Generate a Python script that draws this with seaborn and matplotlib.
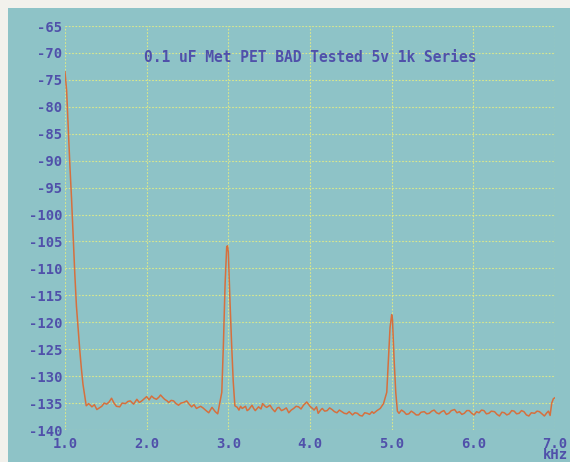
import numpy as np
import pandas as pd
import matplotlib
matplotlib.use("Agg")
import matplotlib.pyplot as plt
import seaborn as sns
from matplotlib.patches import Rectangle

# spectrum trace (kHz, dB)
freq_khz = [
    1.00, 1.02, 1.04, 1.06, 1.08, 1.10, 1.12, 1.14, 1.16, 1.18, 1.20, 1.22, 1.24, 1.26,
    1.29, 1.33, 1.36, 1.39, 1.42, 1.45, 1.48, 1.51, 1.54, 1.57, 1.60, 1.63, 1.67, 1.70,
    1.74, 1.77, 1.80, 1.84, 1.88, 1.91, 1.94, 1.97, 2.00, 2.03, 2.06, 2.09, 2.12, 2.15,
    2.17, 2.20, 2.22, 2.25, 2.27, 2.30, 2.33, 2.36, 2.39, 2.42, 2.45, 2.49, 2.52, 2.55,
    2.58, 2.61, 2.66, 2.69, 2.72, 2.76, 2.80, 2.84, 2.87, 2.89, 2.92, 2.94, 2.96, 2.98,
    2.99, 3.00, 3.02, 3.04, 3.06, 3.08,
    3.11, 3.13, 3.15, 3.17, 3.21, 3.23, 3.25, 3.29, 3.31, 3.33, 3.37, 3.40, 3.42, 3.45,
    3.47, 3.51, 3.54, 3.57, 3.60, 3.62, 3.65, 3.68, 3.71, 3.74, 3.77, 3.80, 3.83, 3.86,
    3.89, 3.92, 3.96, 4.00, 4.03, 4.05, 4.08, 4.10, 4.13, 4.15, 4.18, 4.21, 4.24, 4.27,
    4.30, 4.33, 4.36, 4.39, 4.42, 4.45, 4.48, 4.52, 4.55, 4.58, 4.61, 4.64, 4.67, 4.70,
    4.73, 4.76, 4.78, 4.82, 4.86, 4.90, 4.94, 4.96, 4.98, 5.00, 5.01, 5.03, 5.05, 5.07,
    5.09, 5.12, 5.15, 5.18, 5.21, 5.24, 5.27, 5.30, 5.33, 5.36, 5.40, 5.43, 5.46, 5.49,
    5.52, 5.55, 5.58, 5.61, 5.64, 5.67, 5.70, 5.73, 5.77, 5.80, 5.83, 5.86, 5.89, 5.92,
    5.95, 5.98, 6.01, 6.04, 6.07, 6.10, 6.13, 6.16, 6.19, 6.22, 6.26, 6.29, 6.32, 6.35,
    6.38, 6.41, 6.44, 6.47, 6.50, 6.53, 6.56, 6.59, 6.62, 6.65, 6.68, 6.71, 6.75, 6.78,
    6.81, 6.84, 6.87, 6.90, 6.92, 6.94, 6.96, 6.98, 7.00,
]
level_db = [
    -73.5, -77.0, -84.0, -91.0, -97.0, -104.0, -111.0, -117.0, -121.0, -125.0, -128.5, -131.5, -133.5, -135.5,
    -135.1, -135.7, -135.3, -136.2, -135.9, -135.6, -135.0, -135.2, -134.8, -134.1, -135.0, -135.6, -135.7, -135.0,
    -135.1, -134.7, -134.6, -135.2, -134.3, -134.9, -134.6, -134.2, -133.8, -134.4, -133.7, -134.1, -134.3, -133.9,
    -133.5, -134.0, -134.3, -134.6, -134.9, -134.5, -134.6, -135.1, -135.4, -135.0, -134.9, -134.6, -135.2, -135.7,
    -135.3, -136.0, -135.6, -135.9, -136.3, -136.8, -135.8, -136.6, -137.0, -135.4, -133.0, -124.0, -113.0, -106.0,
    -105.8, -107.0, -116.0, -124.0, -131.0, -135.5,
    -135.8, -136.3, -135.6, -136.0, -135.6, -136.4, -136.2, -135.4, -136.0, -136.4, -135.7, -136.1, -135.1, -135.6,
    -135.8, -135.4, -136.1, -136.6, -135.9, -135.8, -136.4, -136.2, -135.9, -136.8, -136.3, -136.0, -135.6, -135.7,
    -136.1, -135.4, -134.8, -135.6, -136.0, -136.3, -135.7, -136.9, -136.3, -136.0, -136.5, -136.4, -135.9, -136.2,
    -136.6, -136.8, -136.3, -136.6, -136.9, -137.0, -136.6, -137.2, -136.8, -136.9, -137.3, -137.4, -136.8, -136.9,
    -137.1, -136.6, -136.9, -136.4, -136.0, -135.1, -133.0, -127.0, -121.0, -118.6, -119.5, -127.0, -133.0, -136.5,
    -136.9, -136.3, -136.6, -137.1, -137.0, -136.5, -136.8, -137.2, -137.2, -136.7, -136.6, -137.0, -136.9, -136.5,
    -136.3, -136.8, -137.0, -136.6, -136.4, -137.1, -136.9, -136.4, -136.2, -136.8, -136.6, -137.1, -136.9, -136.4,
    -136.4, -136.9, -137.2, -136.6, -136.8, -136.3, -136.4, -137.0, -136.9, -136.5, -136.6, -137.1, -137.4, -136.7,
    -136.8, -137.2, -137.0, -136.4, -136.5, -137.0, -136.9, -136.4, -136.6, -137.2, -137.4, -136.8, -136.9, -136.5,
    -136.6, -137.0, -137.4, -136.8, -136.5, -137.3, -135.0, -134.2, -134.0,
]

x_ticks = [1.0, 2.0, 3.0, 4.0, 5.0, 6.0, 7.0]
x_tick_labels = ["1.0", "2.0", "3.0", "4.0", "5.0", "6.0", "7.0\nkHz"]
y_ticks = [-65, -70, -75, -80, -85, -90, -95, -100, -105, -110, -115, -120, -125, -130, -135, -140]

title_text = "0.1 uF Met PET BAD Tested 5v 1k Series"

screen_bg = "#8ec3c7"
text_col = "#5050aa"
grid_col = "#dce88a"
trace_col = "#d6703e"

df = pd.DataFrame({"freq": freq_khz, "level": level_db})

fig = plt.figure(figsize=(5.7, 4.62), dpi=100)
fig.patch.set_facecolor("#f2f1ec")
# the teal screen area (scan has a light strip top/left)
fig.patches.append(Rectangle((8 / 570, 0), 1, 1 - 8 / 462, transform=fig.transFigure,
                             facecolor=screen_bg, edgecolor="none", zorder=-10))

ax = fig.add_axes([65 / 570, 1 - 430 / 462, 490 / 570, 404 / 462])
ax.set_facecolor(screen_bg)

sns.lineplot(data=df, x="freq", y="level", ax=ax, color=trace_col, linewidth=1.1,
             estimator=None, sort=False)

ax.set_xlim(1.0, 7.0)
ax.set_ylim(-140, -65)
ax.set_xticks(x_ticks)
ax.set_xticklabels(x_tick_labels, linespacing=0.75)
ax.set_yticks(y_ticks)
ax.set_yticklabels([str(v) for v in y_ticks])

for sp in ax.spines.values():
    sp.set_visible(False)

ax.grid(True, color=grid_col, linestyle=(0, (1.5, 1.5)), linewidth=0.8)
ax.set_axisbelow(True)

ax.tick_params(axis="both", length=0, colors=text_col, labelsize=10)
ax.tick_params(axis="x", pad=5)
ax.tick_params(axis="y", pad=2)
for lab in ax.get_xticklabels() + ax.get_yticklabels():
    lab.set_fontfamily("DejaVu Sans Mono")
    lab.set_fontweight("bold")
    lab.set_color(text_col)

ax.set_xlabel("")
ax.set_ylabel("")

ax.text(0.5, 1 - 32 / 404, title_text, transform=ax.transAxes, ha="center", va="center",
        fontsize=10.5, fontfamily="DejaVu Sans Mono", fontweight="bold", color=text_col)

fig.savefig("out.png", dpi=100, facecolor=fig.get_facecolor())
